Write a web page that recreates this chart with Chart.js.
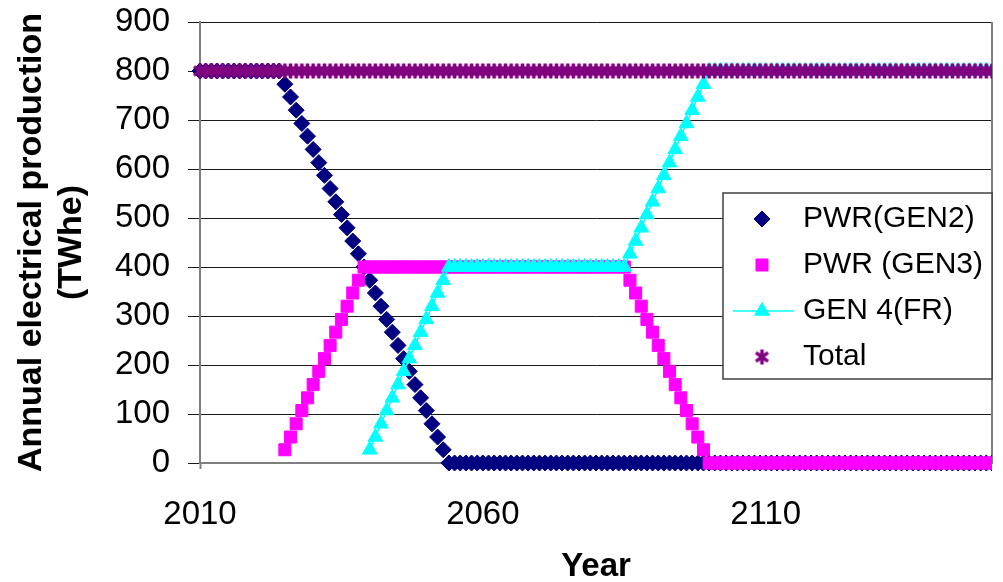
<!DOCTYPE html>
<html>
<head>
<meta charset="utf-8">
<title>Annual electrical production</title>
<script src="https://cdn.jsdelivr.net/npm/chart.js@4.4.1/dist/chart.umd.min.js"></script>
<style>
    html, body { margin: 0; padding: 0; background: #fff; }
    #wrap { width: 1003px; height: 582px; }
</style>
</head>
<body>
<div id="wrap"><canvas id="prodChart" width="1003" height="582"></canvas></div>
<script>
// Yearly production per reactor generation (TWhe)
const years = [
    2010, 2011, 2012, 2013, 2014, 2015, 2016, 2017, 2018, 2019,
    2020, 2021, 2022, 2023, 2024, 2025, 2026, 2027, 2028, 2029,
    2030, 2031, 2032, 2033, 2034, 2035, 2036, 2037, 2038, 2039,
    2040, 2041, 2042, 2043, 2044, 2045, 2046, 2047, 2048, 2049,
    2050, 2051, 2052, 2053, 2054, 2055, 2056, 2057, 2058, 2059,
    2060, 2061, 2062, 2063, 2064, 2065, 2066, 2067, 2068, 2069,
    2070, 2071, 2072, 2073, 2074, 2075, 2076, 2077, 2078, 2079,
    2080, 2081, 2082, 2083, 2084, 2085, 2086, 2087, 2088, 2089,
    2090, 2091, 2092, 2093, 2094, 2095, 2096, 2097, 2098, 2099,
    2100, 2101, 2102, 2103, 2104, 2105, 2106, 2107, 2108, 2109,
    2110, 2111, 2112, 2113, 2114, 2115, 2116, 2117, 2118, 2119,
    2120, 2121, 2122, 2123, 2124, 2125, 2126, 2127, 2128, 2129,
    2130, 2131, 2132, 2133, 2134, 2135, 2136, 2137, 2138, 2139,
    2140, 2141, 2142, 2143, 2144, 2145, 2146, 2147, 2148, 2149,
    2150
];

const pwrGen2 = [
    800, 800, 800, 800, 800, 800, 800, 800, 800, 800,
    800, 800, 800, 800, 800, 773, 747, 720, 693, 667,
    640, 613, 587, 560, 533, 507, 480, 453, 427, 400,
    373, 347, 320, 293, 267, 240, 213, 187, 160, 133,
    107, 80, 53, 27, 0, 0, 0, 0, 0, 0,
    0, 0, 0, 0, 0, 0, 0, 0, 0, 0,
    0, 0, 0, 0, 0, 0, 0, 0, 0, 0,
    0, 0, 0, 0, 0, 0, 0, 0, 0, 0,
    0, 0, 0, 0, 0, 0, 0, 0, 0, 0,
    0, 0, 0, 0, 0, 0, 0, 0, 0, 0,
    0, 0, 0, 0, 0, 0, 0, 0, 0, 0,
    0, 0, 0, 0, 0, 0, 0, 0, 0, 0,
    0, 0, 0, 0, 0, 0, 0, 0, 0, 0,
    0, 0, 0, 0, 0, 0, 0, 0, 0, 0,
    0
];

const pwrGen3 = [
    null, null, null, null, null, null, null, null, null, null,
    null, null, null, null, null, 27, 53, 80, 107, 133,
    160, 187, 213, 240, 267, 293, 320, 347, 373, 400,
    400, 400, 400, 400, 400, 400, 400, 400, 400, 400,
    400, 400, 400, 400, 400, 400, 400, 400, 400, 400,
    400, 400, 400, 400, 400, 400, 400, 400, 400, 400,
    400, 400, 400, 400, 400, 400, 400, 400, 400, 400,
    400, 400, 400, 400, 400, 400, 373, 347, 320, 293,
    267, 240, 213, 187, 160, 133, 107, 80, 53, 27,
    0, 0, 0, 0, 0, 0, 0, 0, 0, 0,
    0, 0, 0, 0, 0, 0, 0, 0, 0, 0,
    0, 0, 0, 0, 0, 0, 0, 0, 0, 0,
    0, 0, 0, 0, 0, 0, 0, 0, 0, 0,
    0, 0, 0, 0, 0, 0, 0, 0, 0, 0,
    0
];

const gen4Fr = [
    null, null, null, null, null, null, null, null, null, null,
    null, null, null, null, null, null, null, null, null, null,
    null, null, null, null, null, null, null, null, null, null,
    27, 53, 80, 107, 133, 160, 187, 213, 240, 267,
    293, 320, 347, 373, 400, 400, 400, 400, 400, 400,
    400, 400, 400, 400, 400, 400, 400, 400, 400, 400,
    400, 400, 400, 400, 400, 400, 400, 400, 400, 400,
    400, 400, 400, 400, 400, 400, 427, 453, 480, 507,
    533, 560, 587, 613, 640, 667, 693, 720, 747, 773,
    800, 800, 800, 800, 800, 800, 800, 800, 800, 800,
    800, 800, 800, 800, 800, 800, 800, 800, 800, 800,
    800, 800, 800, 800, 800, 800, 800, 800, 800, 800,
    800, 800, 800, 800, 800, 800, 800, 800, 800, 800,
    800, 800, 800, 800, 800, 800, 800, 800, 800, 800,
    800
];

const total = [
    800, 800, 800, 800, 800, 800, 800, 800, 800, 800,
    800, 800, 800, 800, 800, 800, 800, 800, 800, 800,
    800, 800, 800, 800, 800, 800, 800, 800, 800, 800,
    800, 800, 800, 800, 800, 800, 800, 800, 800, 800,
    800, 800, 800, 800, 800, 800, 800, 800, 800, 800,
    800, 800, 800, 800, 800, 800, 800, 800, 800, 800,
    800, 800, 800, 800, 800, 800, 800, 800, 800, 800,
    800, 800, 800, 800, 800, 800, 800, 800, 800, 800,
    800, 800, 800, 800, 800, 800, 800, 800, 800, 800,
    800, 800, 800, 800, 800, 800, 800, 800, 800, 800,
    800, 800, 800, 800, 800, 800, 800, 800, 800, 800,
    800, 800, 800, 800, 800, 800, 800, 800, 800, 800,
    800, 800, 800, 800, 800, 800, 800, 800, 800, 800,
    800, 800, 800, 800, 800, 800, 800, 800, 800, 800,
    800
];

const xTicks = [2010, 2060, 2110];
const yTicks = [0, 100, 200, 300, 400, 500, 600, 700, 800, 900];

const FONT = "'Liberation Sans', Arial, sans-serif";
const GRID = "#1a1a1a";
const AXIS_GREY = "#7f7f7f";

Chart.defaults.font.family = FONT;
Chart.defaults.color = "#000";

// Excel-style "*" marker: vertical bar crossed by two diagonals
function makeAsterisk(color, size, width) {
    const c = document.createElement("canvas");
    c.width = size;
    c.height = size;
    const g = c.getContext("2d");
    const m = size / 2, r = size / 2 - 1;
    const dx = r * Math.cos(Math.PI / 5), dy = r * Math.sin(Math.PI / 5);
    g.strokeStyle = color;
    g.lineWidth = width;
    g.beginPath();
    g.moveTo(m, m - r); g.lineTo(m, m + r);
    g.moveTo(m - dx, m - dy); g.lineTo(m + dx, m + dy);
    g.moveTo(m - dx, m + dy); g.lineTo(m + dx, m - dy);
    g.stroke();
    return c;
}

// Right-hand frame of the plot area
const plotFrame = {
    id: "plotFrame",
    beforeDatasetsDraw(chart) {
        const { ctx, chartArea: a } = chart;
        ctx.save();
        ctx.strokeStyle = AXIS_GREY;
        ctx.lineWidth = 2;
        ctx.beginPath();
        ctx.moveTo(a.right, a.top);
        ctx.lineTo(a.right, a.bottom);
        ctx.stroke();
        ctx.restore();
    }
};

// Boxed legend sitting inside the plot area
const legendBox = {
    id: "legendBox",
    afterDatasetsDraw(chart, args, opts) {
        const { ctx } = chart;
        ctx.save();
        ctx.fillStyle = "#fff";
        ctx.fillRect(opts.x, opts.y, opts.width, opts.height);
        ctx.strokeStyle = "#404040";
        ctx.lineWidth = 1.5;
        ctx.strokeRect(opts.x, opts.y, opts.width, opts.height);

        chart.data.datasets.forEach((ds, i) => {
            const cy = opts.y + opts.firstRow + i * opts.rowGap;
            const mx = opts.markerX;
            if (ds.showLine) {
                ctx.strokeStyle = ds.borderColor;
                ctx.lineWidth = ds.borderWidth;
                ctx.beginPath();
                ctx.moveTo(mx - 29, cy);
                ctx.lineTo(mx + 32, cy);
                ctx.stroke();
            }
            ctx.fillStyle = ds.pointBackgroundColor;
            ctx.strokeStyle = ds.pointBorderColor;
            ctx.lineWidth = ds.pointBorderWidth;
            Chart.helpers.drawPoint(ctx, {
                pointStyle: ds.pointStyle,
                radius: ds.pointRadius,
                rotation: 0,
                borderWidth: ds.pointBorderWidth
            }, mx, cy);

            ctx.fillStyle = "#000";
            ctx.font = `30px ${FONT}`;
            ctx.textBaseline = "middle";
            ctx.textAlign = "left";
            ctx.fillText(ds.label, opts.textX, cy);
        });
        ctx.restore();
    }
};

const edgeClip = { left: 10, top: 10, right: 0, bottom: 10 };

new Chart(document.getElementById("prodChart"), {
    type: "line",
    data: {
        labels: years,
        datasets: [
            {
                label: "PWR(GEN2)",
                data: pwrGen2,
                showLine: false,
                pointStyle: "rectRot",
                pointRadius: 8,
                pointBorderWidth: 1,
                pointBackgroundColor: "#000080",
                pointBorderColor: "#000080",
                clip: edgeClip,
                order: 3
            },
            {
                label: "PWR (GEN3)",
                data: pwrGen3,
                showLine: false,
                pointStyle: "rect",
                pointRadius: 8.5,
                pointBorderWidth: 1,
                pointBackgroundColor: "#ff00ff",
                pointBorderColor: "#ff00ff",
                clip: edgeClip,
                order: 2
            },
            {
                label: "GEN 4(FR)",
                data: gen4Fr,
                showLine: true,
                borderColor: "#00ffff",
                borderWidth: 1.5,
                pointStyle: "triangle",
                pointRadius: 8.5,
                pointBorderWidth: 1,
                pointBackgroundColor: "#00ffff",
                pointBorderColor: "#00ffff",
                clip: edgeClip,
                order: 1
            },
            {
                label: "Total",
                data: total,
                showLine: false,
                pointStyle: makeAsterisk("#800080", 17, 3.5),
                pointRadius: 8,
                pointBorderWidth: 3,
                pointBackgroundColor: "#800080",
                pointBorderColor: "#800080",
                clip: edgeClip,
                order: 0
            }
        ]
    },
    options: {
        responsive: false,
        animation: false,
        events: [],
        layout: { padding: { left: 0, top: 22, right: 5, bottom: 0 } },
        plugins: {
            legend: { display: false },
            tooltip: { enabled: false },
            legendBox: {
                x: 723, y: 193, width: 269, height: 186,
                markerX: 762, textX: 803, firstRow: 26, rowGap: 46
            }
        },
        scales: {
            x: {
                type: "linear",
                min: 2010,
                max: 2150,
                afterBuildTicks: s => { s.ticks = xTicks.map(v => ({ value: v })); },
                afterFit: s => { s.height = 119; },
                grid: {
                    drawOnChartArea: false,
                    drawTicks: true,
                    tickLength: 6,
                    tickColor: AXIS_GREY,
                    tickWidth: 2
                },
                border: { color: AXIS_GREY, width: 2 },
                ticks: {
                    padding: 26,
                    maxRotation: 0,
                    font: { size: 33 },
                    color: "#000",
                    callback: v => String(v)
                },
                title: {
                    display: true,
                    text: "Year",
                    color: "#000",
                    font: { size: 33, weight: "bold", lineHeight: 0.9 },
                    padding: 0
                }
            },
            y: {
                min: 0,
                max: 900,
                afterBuildTicks: s => { s.ticks = yTicks.map(v => ({ value: v })); },
                afterFit: s => {
                    // axis width fixed; top label overflow handled by layout padding
                    s.width = 200;
                    s.paddingTop = 0;
                    s.paddingBottom = 0;
                },
                grid: {
                    color: c => (c.tick && c.tick.value === 0 ? "rgba(0,0,0,0)" : GRID),
                    tickColor: GRID,
                    tickLength: 12,
                    lineWidth: 1
                },
                border: { color: AXIS_GREY, width: 2 },
                ticks: {
                    padding: 18,
                    font: { size: 33 },
                    color: "#000",
                    callback: v => String(v)
                },
                title: {
                    display: true,
                    text: ["Annual electrical production", "(TWhe)"],
                    color: "#000",
                    font: { size: 34, weight: "bold", lineHeight: 1.17 },
                    padding: { top: 12, bottom: 0 }
                }
            }
        }
    },
    plugins: [plotFrame, legendBox]
});
</script>
</body>
</html>
